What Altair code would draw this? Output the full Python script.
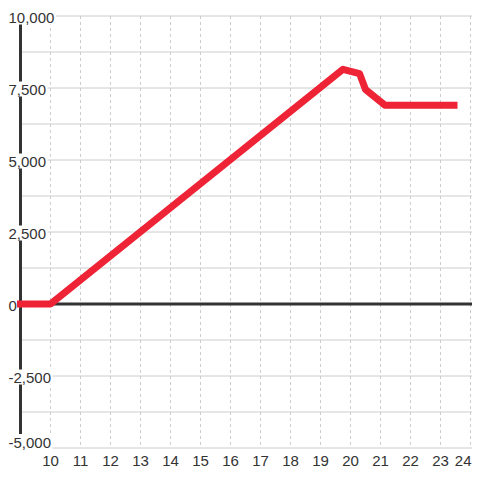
import altair as alt
import pandas as pd

# ---- data ----
line_x = [9, 10, 19.75, 20.3, 20.5, 21.15, 23.45]
line_y = [0, 0, 8150, 8000, 7450, 6900, 6900]
x_ticks = list(range(10, 25))
x_tick_text = [str(t) for t in x_ticks]
y_grid = [-5000, -3750, -2500, -1250, 0, 1250, 2500, 3750, 5000, 6250, 7500, 8750, 10000]
y_label_vals = [-5000, -2500, 0, 2500, 5000, 7500, 10000]
y_label_text = ["-5,000", "-2,500", "0", "2,500", "5,000", "7,500", "10,000"]

W, H = 464, 440
XMIN = 8.5833
XMAX = XMIN + W / 30.0
YMIN, YMAX = -5000, 10277.8
AXIS_X = 9
FONT = "Liberation Sans"
DARK = "#333333"
GRID = "#cccccc"
RED = "#ee2336"

xs = alt.Scale(domain=[XMIN, XMAX], nice=False, zero=False)
ys = alt.Scale(domain=[YMIN, YMAX], nice=False, zero=False)

line_df = pd.DataFrame({"x": line_x, "y": line_y, "i": range(len(line_x))})
grid_df = pd.DataFrame({"v": y_grid})
tick_df = pd.DataFrame({"t": x_ticks, "s": x_tick_text})


def text_width(s):
    w = 0.0
    for ch in s:
        if ch.isdigit():
            w += 8.34
        elif ch == ",":
            w += 4.17
        else:
            w += 5.0
    return w + 2


lab_df = pd.DataFrame({
    "v": y_label_vals,
    "t": y_label_text,
    "w": [text_width(s) for s in y_label_text],
})
one = pd.DataFrame({"v": [0]})

hgrid = alt.Chart(grid_df).mark_rule(color=GRID, strokeWidth=1).encode(
    y=alt.Y("v:Q", scale=ys, axis=None),
    x=alt.XDatum(AXIS_X, scale=xs, axis=None),
    x2=alt.X2Datum(XMAX),
)

vgrid = alt.Chart(tick_df).mark_rule(color=GRID, strokeWidth=1, strokeDash=[3, 3]).encode(
    x=alt.X("t:Q", scale=xs, axis=None),
    y=alt.YDatum(10000, scale=ys, axis=None),
    y2=alt.Y2Datum(-5000),
)


def xlab_layer(filt, align, dx):
    return alt.Chart(tick_df).transform_filter(filt).mark_text(
        align=align, baseline="alphabetic", dy=18, dx=dx, font=FONT, fontSize=15, color=DARK
    ).encode(
        x=alt.X("t:Q", scale=xs, axis=None),
        y=alt.YDatum(-5000, scale=ys, axis=None),
        text="s:N",
    )


xlabels_main = xlab_layer(alt.datum.t < 24, "center", 0)
xlabels_last = xlab_layer(alt.datum.t >= 24, "right", 1)

zero_line = alt.Chart(one).mark_rule(color=DARK, strokeWidth=3).encode(
    y=alt.Y("v:Q", scale=ys, axis=None),
    x=alt.XDatum(AXIS_X, scale=xs, axis=None),
    x2=alt.X2Datum(XMAX),
)

left_axis = alt.Chart(one).mark_rule(color=DARK, strokeWidth=3).encode(
    x=alt.XDatum(AXIS_X, scale=xs, axis=None),
    y=alt.YDatum(-5000, scale=ys, axis=None),
    y2=alt.Y2Datum(10000),
)


def bg_layer(filt, off):
    return alt.Chart(lab_df).transform_filter(filt).mark_rect(
        color="white", yOffset=-6.5 + off, y2Offset=8.5 + off
    ).encode(
        x=alt.X("w:Q", scale=None, axis=None),
        x2=alt.value(0),
        y=alt.Y("v:Q", scale=ys, axis=None),
        y2=alt.Y2("v:Q"),
    )


def ylab_layer(filt, off):
    return alt.Chart(lab_df).transform_filter(filt).mark_text(
        align="left", baseline="alphabetic", dy=7 + off, dx=0.5,
        font=FONT, fontSize=15, color=DARK
    ).encode(
        x=alt.value(0),
        y=alt.Y("v:Q", scale=ys, axis=None),
        text="t:N",
    )


is_bottom = alt.datum.v <= -5000
not_bottom = alt.datum.v > -5000

red_line = alt.Chart(line_df).mark_line(
    color=RED, strokeWidth=7, strokeCap="square", strokeJoin="round"
).encode(
    x=alt.X("x:Q", scale=xs, axis=None),
    y=alt.Y("y:Q", scale=ys, axis=None),
    order="i:Q",
)

chart = alt.layer(
    hgrid, vgrid, zero_line, left_axis,
    bg_layer(not_bottom, 0), bg_layer(is_bottom, -7.5),
    red_line,
    ylab_layer(not_bottom, 0), ylab_layer(is_bottom, -7.5),
    xlabels_main, xlabels_last,
).properties(
    width=W, height=H,
    autosize=alt.AutoSizeParams(type="none"),
    padding={"left": 0, "top": 0, "right": 0, "bottom": 24},
    background="white",
).configure_view(stroke=None)

chart.save("out.html", embed_options={"renderer": "svg", "actions": False})
